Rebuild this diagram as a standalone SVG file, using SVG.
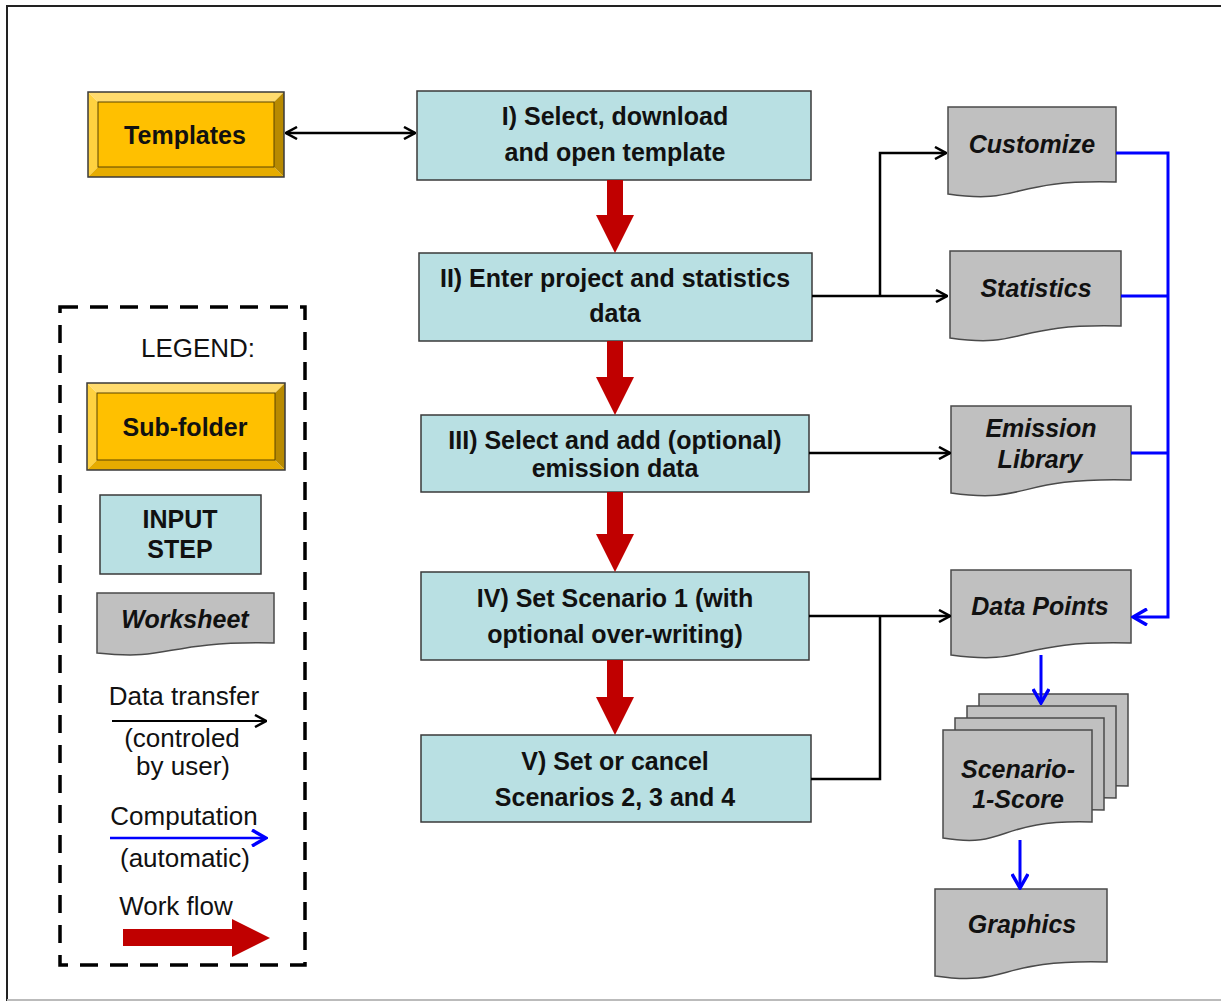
<svg xmlns="http://www.w3.org/2000/svg" width="1221" height="1001" viewBox="0 0 1221 1001">
<style>
  .step{fill:#b9e0e3;stroke:#3a3a3a;stroke-width:1.5}
  .doc{fill:#c0c0c0;stroke:#4a4a4a;stroke-width:1.5}
  .bt{font-family:"Liberation Sans",Arial,sans-serif;font-weight:bold;font-size:25px;fill:#111;text-anchor:middle}
  .it{font-family:"Liberation Sans",Arial,sans-serif;font-weight:bold;font-style:italic;font-size:25px;fill:#111;text-anchor:middle}
  .rg{font-family:"Liberation Sans",Arial,sans-serif;font-size:26px;fill:#111;text-anchor:middle}
  .bev-t{fill:#ffdb6e}.bev-l{fill:#ffd240}.bev-b{fill:#e6ac00}.bev-r{fill:#b88a00}
  .face{fill:#ffc000;stroke:#5a4500;stroke-width:1}
  .bevo{fill:none;stroke:#3a3a3a;stroke-width:1.5}
  .blk{fill:none;stroke:#000;stroke-width:2.5}
  .blu{fill:none;stroke:#0000ff;stroke-width:3}
  .red{fill:#c00000}
</style>
<defs>
  <marker id="ab" viewBox="0 0 14 14" refX="13" refY="7" markerWidth="14" markerHeight="14" markerUnits="userSpaceOnUse" orient="auto-start-reverse">
    <path d="M2,1 L13,7 L2,13" fill="none" stroke="#000" stroke-width="2.5"/>
  </marker>
  <marker id="au" viewBox="0 0 18 18" refX="16" refY="9" markerWidth="18" markerHeight="18" markerUnits="userSpaceOnUse" orient="auto">
    <path d="M2,1 L16,9 L2,17" fill="none" stroke="#0000ff" stroke-width="3.5"/>
  </marker>
</defs>
<rect x="0" y="0" width="1221" height="1001" fill="#fff"/>
<path d="M7,1001 V6 H1221" fill="none" stroke="#222" stroke-width="2"/>
<line x1="7" y1="1000" x2="1221" y2="1000" stroke="#bbb" stroke-width="2"/>

<!-- Templates -->
<g id="templates">
  <polygon class="bev-t" points="88,92 284,92 274,102 98,102"/>
  <polygon class="bev-l" points="88,92 98,102 98,167 88,177"/>
  <polygon class="bev-b" points="88,177 98,167 274,167 284,177"/>
  <polygon class="bev-r" points="284,92 284,177 274,167 274,102"/>
  <rect class="face" x="98" y="102" width="176" height="65"/>
  <rect class="bevo" x="88" y="92" width="196" height="85"/>
  <text class="bt" x="185" y="144">Templates</text>
</g>

<!-- Steps -->
<g id="step1">
  <rect class="step" x="417" y="91" width="394" height="89"/>
  <text class="bt" x="615" y="125">I) Select, download</text>
  <text class="bt" x="615" y="161">and open template</text>
</g>
<g id="step2">
  <rect class="step" x="419" y="253" width="393" height="88"/>
  <text class="bt" x="615" y="287">II) Enter project and statistics</text>
  <text class="bt" x="615" y="322">data</text>
</g>
<g id="step3">
  <rect class="step" x="421" y="415" width="388" height="77"/>
  <text class="bt" x="615" y="449">III) Select and add (optional)</text>
  <text class="bt" x="615" y="477">emission data</text>
</g>
<g id="step4">
  <rect class="step" x="421" y="572" width="388" height="88"/>
  <text class="bt" x="615" y="607">IV) Set Scenario 1 (with</text>
  <text class="bt" x="615" y="643">optional over-writing)</text>
</g>
<g id="step5">
  <rect class="step" x="421" y="735" width="390" height="87"/>
  <text class="bt" x="615" y="770">V) Set or cancel</text>
  <text class="bt" x="615" y="806">Scenarios 2, 3 and 4</text>
</g>

<!-- Worksheets -->
<g id="customize">
  <path class="doc" d="M948,107 H1116 V182 C1007,179 1023,205 948,194 Z"/>
  <text class="it" x="1032" y="153">Customize</text>
</g>
<g id="statistics">
  <path class="doc" d="M950,251 H1121 V326 C1010,323 1026,349 950,338 Z"/>
  <text class="it" x="1036" y="297">Statistics</text>
</g>
<g id="emission">
  <path class="doc" d="M951,406 H1131 V480 C1014,477 1031,504 951,493 Z"/>
  <text class="it" x="1041" y="437">Emission</text>
  <text class="it" x="1040" y="468">Library</text>
</g>
<g id="datapoints">
  <path class="doc" d="M951,570 H1131 V643 C1014,640 1031,666 951,655 Z"/>
  <text class="it" x="1040" y="615">Data Points</text>
</g>
<g id="scenario">
  <path class="doc" d="M979,694 H1128 V786 C1031,783 1046,810 979,799 Z"/>
  <path class="doc" d="M967,706 H1116 V798 C1019,795 1034,822 967,811 Z"/>
  <path class="doc" d="M955,718 H1104 V810 C1007,807 1022,834 955,823 Z"/>
  <path class="doc" d="M943,730 H1092 V822 C995,819 1010,849 943,838 Z"/>
  <text class="it" x="1018" y="778">Scenario-</text>
  <text class="it" x="1018" y="808">1-Score</text>
</g>
<g id="graphics">
  <path class="doc" d="M935,889 H1107 V962 C995,959 1011,987 935,976 Z"/>
  <text class="it" x="1022" y="933">Graphics</text>
</g>

<!-- Connectors -->
<g id="connectors">
  <line class="blk" x1="286" y1="133" x2="415" y2="133" marker-start="url(#ab)" marker-end="url(#ab)"/>
  <polygon class="red" points="607,180 623,180 623,215 634,215 615,253 596,215 607,215"/>
  <polygon class="red" points="607,341 623,341 623,377 634,377 615,415 596,377 607,377"/>
  <polygon class="red" points="607,492 623,492 623,534 634,534 615,572 596,534 607,534"/>
  <polygon class="red" points="607,660 623,660 623,697 634,697 615,735 596,697 607,697"/>
  <line class="blk" x1="812" y1="296" x2="947" y2="296" marker-end="url(#ab)"/>
  <polyline class="blk" points="880,296 880,153 946,153" marker-end="url(#ab)"/>
  <line class="blk" x1="809" y1="453" x2="950" y2="453" marker-end="url(#ab)"/>
  <line class="blk" x1="809" y1="616" x2="950" y2="616" marker-end="url(#ab)"/>
  <polyline class="blk" points="811,779 880,779 880,616"/>
  <polyline class="blu" points="1116,153 1168,153 1168,617 1133,617" marker-end="url(#au)"/>
  <line class="blu" x1="1121" y1="296" x2="1168" y2="296"/>
  <line class="blu" x1="1131" y1="453" x2="1168" y2="453"/>
  <line class="blu" x1="1041" y1="655" x2="1041" y2="703" marker-end="url(#au)"/>
  <line class="blu" x1="1020" y1="840" x2="1020" y2="888" marker-end="url(#au)"/>
</g>

<!-- Legend -->
<g id="legend">
  <rect x="60" y="307" width="245" height="658" fill="none" stroke="#000" stroke-width="3.5" stroke-dasharray="18,12"/>
  <text class="rg" x="198" y="357">LEGEND:</text>
  <g id="legend-subfolder">
    <polygon class="bev-t" points="87,383 285,383 275,393 97,393"/>
    <polygon class="bev-l" points="87,383 97,393 97,460 87,470"/>
    <polygon class="bev-b" points="87,470 97,460 275,460 285,470"/>
    <polygon class="bev-r" points="285,383 285,470 275,460 275,393"/>
    <rect class="face" x="97" y="393" width="178" height="67"/>
    <rect class="bevo" x="87" y="383" width="198" height="87"/>
    <text class="bt" x="185" y="436">Sub-folder</text>
  </g>
  <g id="legend-input">
    <rect class="step" x="100" y="495" width="161" height="79"/>
    <text class="bt" x="180" y="528">INPUT</text>
    <text class="bt" x="180" y="558">STEP</text>
  </g>
  <g id="legend-worksheet">
    <path class="doc" d="M97,593 H274 V643 C159,641 176,661 97,653 Z"/>
    <text class="it" x="185" y="628">Worksheet</text>
  </g>
  <text class="rg" x="184" y="705">Data transfer</text>
  <line x1="112" y1="721" x2="266" y2="721" stroke="#000" stroke-width="2" marker-end="url(#ab)"/>
  <text class="rg" x="182" y="747">(controled</text>
  <text class="rg" x="183" y="775">by user)</text>
  <text class="rg" x="184" y="825">Computation</text>
  <line x1="110" y1="838" x2="266" y2="838" stroke="#0000ff" stroke-width="2.5" marker-end="url(#au)"/>
  <text class="rg" x="185" y="867">(automatic)</text>
  <text class="rg" x="176" y="915">Work flow</text>
  <polygon class="red" points="123,929 232,929 232,919 270,938 232,957 232,946 123,946"/>
</g>
</svg>
